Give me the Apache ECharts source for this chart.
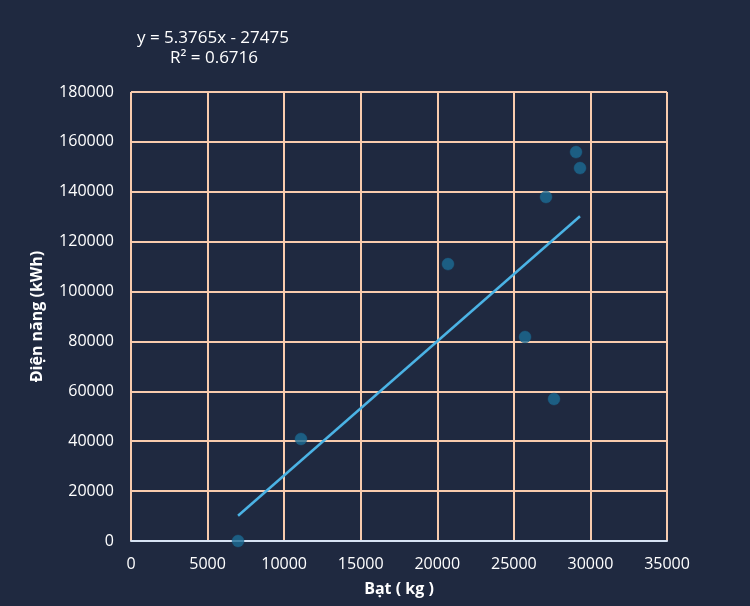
<!DOCTYPE html>
<html><head><meta charset="utf-8">
<script src="https://cdn.jsdelivr.net/npm/echarts@6/dist/echarts.min.js"></script>
<style>html,body{margin:0;padding:0;background:#1f2940;}#c{width:750px;height:606px;}</style>
</head><body><div id="c"></div>
<script>
const batKg = [6990, 11100, 20700, 25730, 27100, 27620, 29060, 29320];
const dienNang = [0, 40900, 111000, 81800, 137900, 56900, 155900, 149500];
const slope = 5.3765, intercept = -27475, r2 = 0.6716;
const xTicks = [0, 35000, 5000];
const yTicks = [0, 180000, 20000];

const pts = batKg.map((x, i) => [x, dienNang[i]]);
const xmin = Math.min(...batKg), xmax = Math.max(...batKg);
const trend = [[xmin, slope * xmin + intercept], [xmax, slope * xmax + intercept]];

const font = '"Open Sans", "Noto Sans", sans-serif';
const chart = echarts.init(document.getElementById('c'));
chart.setOption({
  backgroundColor: '#1f2940',
  animation: false,
  grid: {left: 131, right: 83, top: 92, bottom: 65, containLabel: false, outerBoundsMode: 'none'},
  xAxis: {
    type: 'value', min: xTicks[0], max: xTicks[1], interval: xTicks[2],
    name: 'Bạt ( kg )', nameLocation: 'middle', nameGap: 40,
    nameTextStyle: {color: '#ffffff', fontSize: 16, fontWeight: 'bold', fontFamily: font},
    axisLine: {show: true, lineStyle: {color: '#d6e2f3', width: 2}},
    axisTick: {show: false},
    axisLabel: {color: '#ffffff', fontSize: 16, fontFamily: font, margin: 15, formatter: v => String(v)},
    splitLine: {show: true, lineStyle: {color: '#f8cbad', width: 2}}
  },
  yAxis: {
    type: 'value', min: yTicks[0], max: yTicks[1], interval: yTicks[2],
    name: 'Điện năng (kWh)', nameLocation: 'middle', nameGap: 86, nameRotate: 90,
    nameTextStyle: {color: '#ffffff', fontSize: 16, fontWeight: 'bold', fontFamily: font},
    axisLine: {show: false},
    axisTick: {show: false},
    axisLabel: {color: '#ffffff', fontSize: 16, fontFamily: font, margin: 17, formatter: v => String(v)},
    splitLine: {show: true, lineStyle: {color: '#f8cbad', width: 2}}
  },
  graphic: [{
    type: 'text', left: 137, top: 30,
    style: {text: 'y = ' + slope + 'x - ' + Math.abs(intercept), fill: '#ffffff', font: '17px ' + font}
  }, {
    type: 'text', left: 170, top: 50,
    style: {text: 'R² = ' + r2, fill: '#ffffff', font: '17px ' + font}
  }],
  series: [{
    type: 'line', data: trend, showSymbol: false, symbol: 'none',
    lineStyle: {color: '#4bb3e5', width: 2.5}, z: 3
  }, {
    type: 'scatter', data: pts, symbol: 'circle', symbolSize: 12,
    itemStyle: {color: '#1b6b94', borderColor: '#1b5f86', borderWidth: 0.5}, z: 4
  }]
});
</script></body></html>
